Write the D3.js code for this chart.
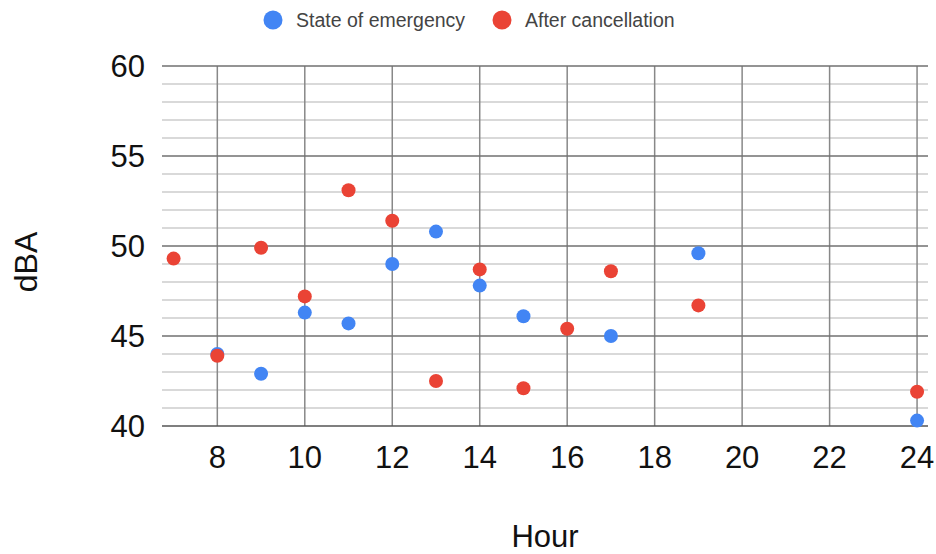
<!DOCTYPE html>
<html>
<head>
<meta charset="utf-8">
<script src="https://cdn.jsdelivr.net/npm/d3@7"></script>
<style>
body { margin: 0; background: #fff; }
text { font-family: Arial, "Liberation Sans", sans-serif; }
</style>
</head>
<body>
<svg id="chart" width="936" height="554"></svg>
<script>
var hoursEmergency = [8, 9, 10, 11, 12, 13, 14, 15, 17, 19, 24];
var dbaEmergency = [44.0, 42.9, 46.3, 45.7, 49.0, 50.8, 47.8, 46.1, 45.0, 49.6, 40.3];

var hoursAfter = [7, 8, 9, 10, 11, 12, 13, 14, 15, 16, 17, 19, 24];
var dbaAfter = [49.3, 43.9, 49.9, 47.2, 53.1, 51.4, 42.5, 48.7, 42.1, 45.4, 48.6, 46.7, 41.9];

var seriesNames = ["State of emergency", "After cancellation"];
var seriesColors = ["#4285F4", "#EA4335"];
var xTicks = [8, 10, 12, 14, 16, 18, 20, 22, 24];
var yTicks = [40, 45, 50, 55, 60];

var PL = 162, PR = 928, PT = 66, PB = 426;

var svg = d3.select("#chart");

var x = d3.scaleLinear().domain([6.735, 24.25]).range([PL, PR]);
var y = d3.scaleLinear().domain([40, 60]).range([PB, PT]);

// minor horizontal grid
svg.append("g")
    .selectAll("line")
    .data(d3.range(41, 60).filter(function(d){ return d % 5 != 0; }))
    .enter().append("line")
    .attr("x1", PL).attr("x2", PR)
    .attr("y1", function(d){ return y(d); })
    .attr("y2", function(d){ return y(d); })
    .attr("stroke", "#cccccc")
    .attr("stroke-width", 1.5);

// vertical grid
svg.append("g")
    .selectAll("line")
    .data(xTicks)
    .enter().append("line")
    .attr("x1", function(d){ return x(d); })
    .attr("x2", function(d){ return x(d); })
    .attr("y1", PT).attr("y2", PB)
    .attr("stroke", "#888888")
    .attr("stroke-width", 1.5);

// major horizontal grid
svg.append("g")
    .selectAll("line")
    .data(yTicks)
    .enter().append("line")
    .attr("x1", PL).attr("x2", PR)
    .attr("y1", function(d){ return y(d); })
    .attr("y2", function(d){ return y(d); })
    .attr("stroke", function(d){ return d == 40 ? "#555555" : "#707070"; })
    .attr("stroke-width", 1.5);

// y labels
svg.append("g")
    .selectAll("text")
    .data(yTicks)
    .enter().append("text")
    .attr("x", 145)
    .attr("y", function(d){ return y(d) + 11; })
    .attr("text-anchor", "end")
    .attr("font-size", 31)
    .attr("fill", "#111")
    .text(function(d){ return d; });

// x labels
svg.append("g")
    .selectAll("text")
    .data(xTicks)
    .enter().append("text")
    .attr("x", function(d){ return x(d); })
    .attr("y", 468)
    .attr("text-anchor", "middle")
    .attr("font-size", 31)
    .attr("fill", "#111")
    .text(function(d){ return d; });

// axis titles
svg.append("text")
    .attr("x", 545).attr("y", 547)
    .attr("text-anchor", "middle")
    .attr("font-size", 31)
    .attr("fill", "#111")
    .text("Hour");

svg.append("text")
    .attr("transform", "translate(37,262) rotate(-90)")
    .attr("text-anchor", "middle")
    .attr("font-size", 32)
    .attr("fill", "#111")
    .text("dBA");

// points
var series = [
    {xs: hoursEmergency, ys: dbaEmergency, color: seriesColors[0]},
    {xs: hoursAfter, ys: dbaAfter, color: seriesColors[1]}
];

series.forEach(function(s){
    svg.append("g")
	.selectAll("circle")
	.data(s.xs.map(function(h, i){ return {h: h, v: s.ys[i]}; }))
	.enter().append("circle")
	.attr("cx", function(d){ return x(d.h); })
	.attr("cy", function(d){ return y(d.v); })
	.attr("r", 7)
	.attr("fill", s.color);
});

// legend
var legendX = [273, 502];
var legend = svg.append("g")
    .selectAll("g")
    .data(seriesNames)
    .enter().append("g")
    .attr("transform", function(d, i){ return "translate(" + legendX[i] + ",20)"; });

legend.append("circle")
    .attr("r", 9.5)
    .attr("fill", function(d, i){ return seriesColors[i]; });

legend.append("text")
    .attr("x", 23)
    .attr("y", 6.5)
    .attr("font-size", 19.5)
    .attr("fill", "#444")
    .text(function(d){ return d; });
</script>
</body>
</html>
